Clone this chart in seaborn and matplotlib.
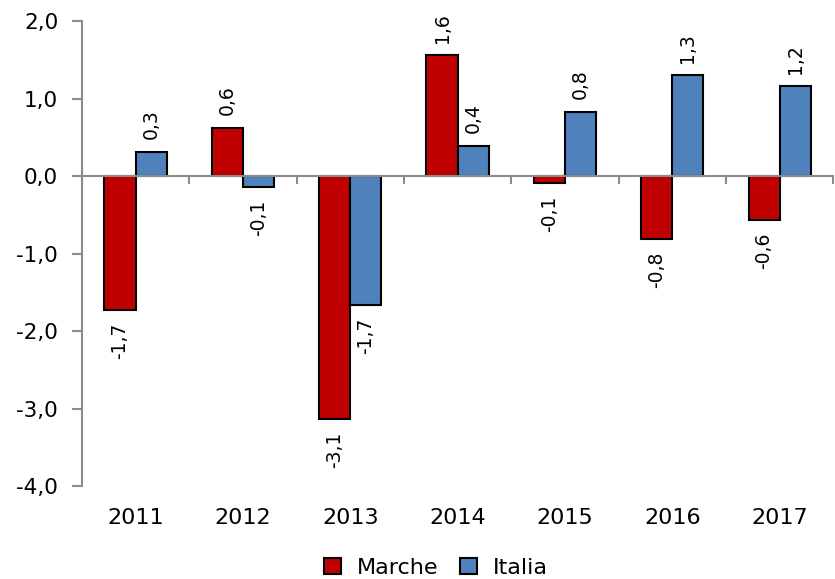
import matplotlib
matplotlib.use('Agg')
import matplotlib.pyplot as plt
import pandas as pd
import seaborn as sns

# data
anni = ['2011', '2012', '2013', '2014', '2015', '2016', '2017']
marche = [-1.73, 0.62, -3.14, 1.56, -0.09, -0.81, -0.57]
italia = [0.31, -0.14, -1.66, 0.39, 0.83, 1.30, 1.16]
serie = ['Marche', 'Italia']
colori = ['#C00000', '#4F81BD']

df = pd.DataFrame({
    'anno': anni * 2,
    'valore': marche + italia,
    'serie': ['Marche'] * len(anni) + ['Italia'] * len(anni),
})

sns.set_style('white')
plt.rcParams['font.family'] = ['DejaVu Sans']
plt.rcParams['text.color'] = 'black'
plt.rcParams['xtick.labelcolor'] = 'black'
plt.rcParams['ytick.labelcolor'] = 'black'

fig = plt.figure(figsize=(8.35, 5.79), dpi=100)
ax = fig.add_axes([0.098, 0.1606, 0.9, 0.8031])

sns.barplot(data=df, x='anno', y='valore', hue='serie', hue_order=serie,
            palette=colori, width=0.58, edgecolor='black', linewidth=1.5,
            saturation=1, ax=ax)

# data labels, rotated, comma decimals
for cont in ax.containers:
    etichette = [f'{b.get_height():.1f}'.replace('.', ',') for b in cont]
    ax.bar_label(cont, labels=etichette, rotation=90, padding=9, fontsize=13.5, color='black')

ax.set_ylim(-4, 2)
ax.set_xlim(-0.5, 6.5)
ax.set_yticks([-4, -3, -2, -1, 0, 1, 2])
ax.set_yticklabels([f'{v:.1f}'.replace('.', ',') for v in [-4, -3, -2, -1, 0, 1, 2]], fontsize=15.5)
ax.set_xlabel('')
ax.set_ylabel('')

grigio = '#8C8C8C'
for s in ['top', 'right']:
    ax.spines[s].set_visible(False)
ax.spines['left'].set_color(grigio)
ax.spines['left'].set_linewidth(1.5)
ax.spines['bottom'].set_position(('data', 0))
ax.spines['bottom'].set_color(grigio)
ax.spines['bottom'].set_linewidth(1.5)
ax.tick_params(axis='y', direction='out', length=7, width=1.5, color=grigio, left=True, pad=10)

# zero line ticks at category boundaries
ax.set_xticks([i + 0.5 for i in range(len(anni))])
ax.set_xticklabels([])
ax.tick_params(axis='x', direction='out', length=6, width=1.5, color=grigio, bottom=True)

# year labels at the bottom
sec = ax.secondary_xaxis(0)
sec.set_xticks(range(len(anni)))
sec.set_xticklabels(anni, fontsize=16)
sec.tick_params(length=0, pad=16)
sec.spines['bottom'].set_visible(False)

handles, labels = ax.get_legend_handles_labels()
ax.get_legend().remove()
fig.legend(handles, labels, loc='lower center', ncol=2, frameon=False,
           fontsize=16, bbox_to_anchor=(0.522, -0.025), handlelength=0.75,
           handleheight=0.75, columnspacing=1.0, handletextpad=0.7,
           borderaxespad=0.3)

fig.savefig('out.png', dpi=100)
